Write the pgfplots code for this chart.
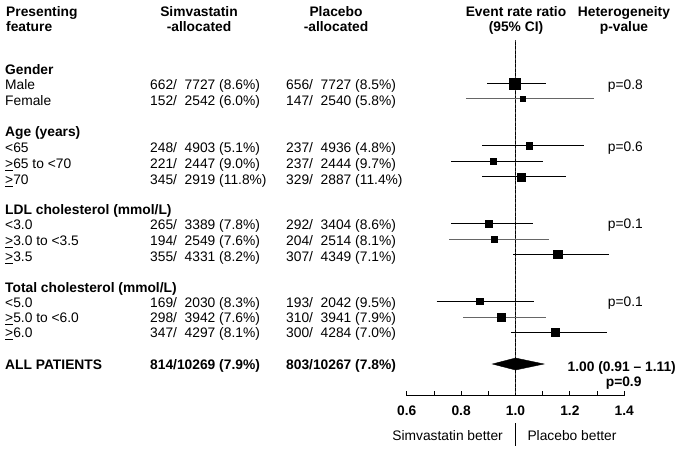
\documentclass[border=0pt]{standalone}
\usepackage{pgfplots}
\pgfplotsset{compat=1.18}
\usepackage{fontspec}
\setmainfont{Liberation Sans}
\begin{document}
\fontsize{13.8}{16}\selectfont
\begin{tikzpicture}[x=1pt,y=1pt]
\useasboundingbox (0,0) rectangle (685,-453);
\def\TL#1#2#3{\node[anchor=base west,inner sep=0] at (#1,{-(#2+4.9)}) {#3};}
\def\TR#1#2#3{\node[anchor=base east,inner sep=0] at (#1,{-(#2+4.9)}) {#3};}
\def\TC#1#2#3{\node[anchor=base,inner sep=0] at (#1,{-(#2+4.9)}) {#3};}
\def\g{\underline{>}}
\def\p{\phantom{0}}
% headers
\TL{6}{12}{\bfseries Presenting}
\TL{6}{27}{\bfseries feature}
\TC{199}{12}{\bfseries Simvastatin}
\TC{199}{27}{\bfseries -allocated}
\TC{336}{12}{\bfseries Placebo}
\TC{336}{27}{\bfseries -allocated}
\TC{516}{12}{\bfseries Event rate ratio}
\TC{516}{27}{\bfseries (95\% CI)}
\TC{624}{12}{\bfseries Heterogeneity}
\TC{624}{27}{\bfseries p-value}
% row labels
\TL{5}{70}{\bfseries Gender}
\TL{5}{85}{Male}
\TL{5}{100.7}{Female}
\TL{5}{131.7}{\bfseries Age (years)}
\TL{5}{148}{<65}
\TL{5}{164}{\g65 to <70}
\TL{5}{180}{\g70}
\TL{5}{210}{\bfseries LDL cholesterol (mmol/L)}
\TL{5}{225}{<3.0}
\TL{5}{241}{\g3.0 to <3.5}
\TL{5}{256.7}{\g3.5}
\TL{5}{288}{\bfseries Total cholesterol (mmol/L)}
\TL{5}{302.7}{<5.0}
\TL{5}{318}{\g5.0 to <6.0}
\TL{5}{333}{\g6.0}
\TL{5}{365}{\bfseries ALL PATIENTS}
% simvastatin column
\TL{150}{85}{662/\p7727 (8.6\%)}
\TL{150}{100.7}{152/\p2542 (6.0\%)}
\TL{150}{148}{248/\p4903 (5.1\%)}
\TL{150}{164}{221/\p2447 (9.0\%)}
\TL{150}{180}{345/\p2919 (11.8\%)}
\TL{150}{225}{265/\p3389 (7.8\%)}
\TL{150}{241}{194/\p2549 (7.6\%)}
\TL{150}{256.7}{355/\p4331 (8.2\%)}
\TL{150}{302.7}{169/\p2030 (8.3\%)}
\TL{150}{318}{298/\p3942 (7.6\%)}
\TL{150}{333}{347/\p4297 (8.1\%)}
\TL{150}{365}{\bfseries 814/10269 (7.9\%)}
% placebo column
\TL{286}{85}{656/\p7727 (8.5\%)}
\TL{286}{100.7}{147/\p2540 (5.8\%)}
\TL{286}{148}{237/\p4936 (4.8\%)}
\TL{286}{164}{237/\p2444 (9.7\%)}
\TL{286}{180}{329/\p2887 (11.4\%)}
\TL{286}{225}{292/\p3404 (8.6\%)}
\TL{286}{241}{204/\p2514 (8.1\%)}
\TL{286}{256.7}{307/\p4349 (7.1\%)}
\TL{286}{302.7}{193/\p2042 (9.5\%)}
\TL{286}{318}{310/\p3941 (7.9\%)}
\TL{286}{333}{300/\p4284 (7.0\%)}
\TL{286}{365}{\bfseries 803/10267 (7.8\%)}
% p-values
\TL{607.7}{85}{p=0.8}
\TL{607.7}{146.7}{p=0.6}
\TL{607.7}{224}{p=0.1}
\TL{607.7}{302}{p=0.1}
\TR{676}{366.7}{\bfseries 1.00 (0.91 -- 1.11)}
\TR{641.7}{381.7}{\bfseries p=0.9}
% bottom annotation
\TR{503}{436}{Simvastatin better}
\TL{527.3}{436}{Placebo better}
\draw[line width=0.8pt] (515.2,-423) -- (515.2,-446);
\begin{axis}[
  scale only axis, width=217.6pt, height=357.5pt,
  at={(406.7pt,-395.5pt)}, anchor=south west,
  xmin=0.6, xmax=1.4, ymin=-395.5, ymax=-38,
  axis x line=bottom, hide y axis,
  axis line style={-, line width=0.8pt},
  xtick={0.6,0.8,1.0,1.2,1.4},
  xticklabels={\textbf{0.6},\textbf{0.8},\textbf{1.0},\textbf{1.2},\textbf{1.4}},
  minor xtick={0.7,0.9,1.1,1.3},
  tick align=inside, major tick length=5pt, minor tick length=5pt,
  tick style={black, line width=0.8pt},
  xticklabel style={yshift=-6pt},
  clip=false,
]
\addplot[black!75, line width=1pt] coordinates {(1,-395.5) (1,-40)};
\addplot[black, line width=1.4pt, dash pattern=on 3pt off 1.5pt] coordinates {(1,-395.5) (1,-40)};
% confidence intervals
\addplot[black, line width=0.9pt] coordinates {(0.896,-83.3) (1.111,-83.3)};
\addplot[black!60, line width=1pt] coordinates {(0.818,-98.7) (1.290,-98.7)};
\addplot[black, line width=0.9pt] coordinates {(0.878,-145.7) (1.253,-145.7)};
\addplot[black, line width=0.9pt] coordinates {(0.764,-161) (1.102,-161)};
\addplot[black, line width=0.9pt] coordinates {(0.877,-176.7) (1.185,-176.7)};
\addplot[black, line width=0.9pt] coordinates {(0.764,-223.3) (1.065,-223.3)};
\addplot[black!60, line width=1pt] coordinates {(0.757,-239.3) (1.124,-239.3)};
\addplot[black, line width=0.9pt] coordinates {(0.992,-254.3) (1.345,-254.3)};
\addplot[black, line width=0.9pt] coordinates {(0.710,-301.3) (1.069,-301.3)};
\addplot[black!60, line width=1pt] coordinates {(0.808,-317) (1.111,-317)};
\addplot[black, line width=0.9pt] coordinates {(0.983,-332.3) (1.335,-332.3)};
% point estimates
\addplot[only marks, mark=square*, mark size=5.5pt, black] coordinates {(0.996,-83.3)};
\addplot[only marks, mark=square*, mark size=2.7pt, black] coordinates {(1.026,-98.7)};
\addplot[only marks, mark=square*, mark size=3.4pt, black] coordinates {(1.050,-145.7)};
\addplot[only marks, mark=square*, mark size=3.2pt, black] coordinates {(0.918,-161)};
\addplot[only marks, mark=square*, mark size=4pt, black] coordinates {(1.020,-176.7)};
\addplot[only marks, mark=square*, mark size=3.5pt, black] coordinates {(0.900,-223.3)};
\addplot[only marks, mark=square*, mark size=3.2pt, black] coordinates {(0.922,-239.3)};
\addplot[only marks, mark=square*, mark size=4.1pt, black] coordinates {(1.155,-254.3)};
\addplot[only marks, mark=square*, mark size=3.2pt, black] coordinates {(0.868,-301.3)};
\addplot[only marks, mark=square*, mark size=3.7pt, black] coordinates {(0.948,-317)};
\addplot[only marks, mark=square*, mark size=3.9pt, black] coordinates {(1.146,-332.3)};
% overall diamond
\addplot[fill=black, draw=black] coordinates {(0.915,-364) (1.0,-358) (1.105,-364) (1.0,-370)} -- cycle;
\end{axis}
\end{tikzpicture}
\end{document}
